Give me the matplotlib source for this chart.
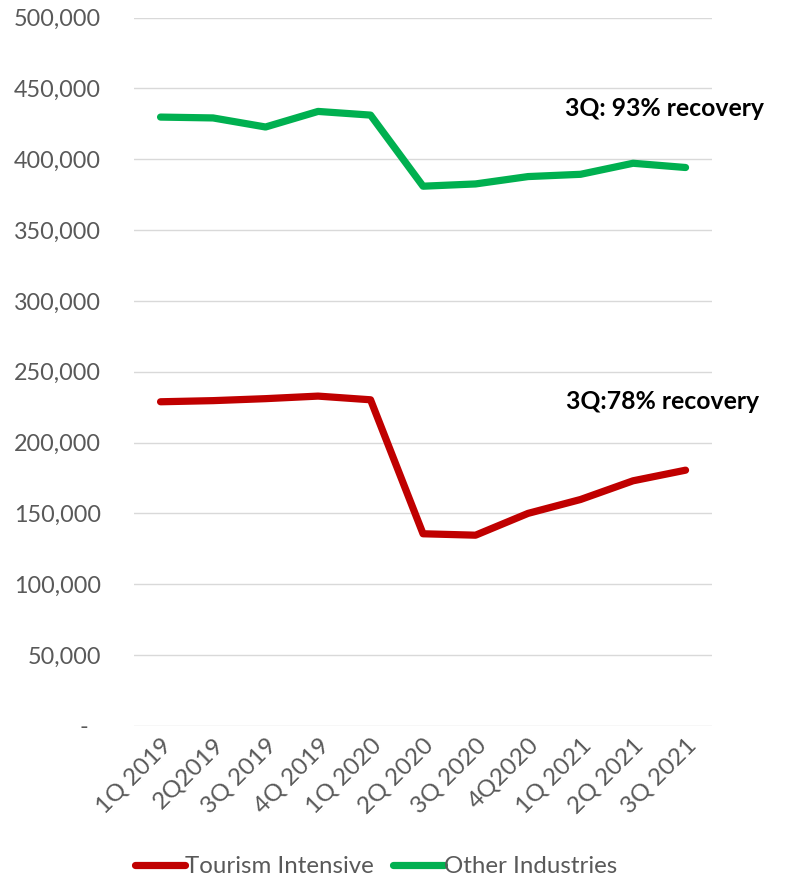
import matplotlib
matplotlib.use("Agg")
import matplotlib.pyplot as plt
from matplotlib.ticker import FuncFormatter

categories = ["1Q 2019", "2Q2019", "3Q 2019", "4Q 2019", "1Q 2020", "2Q 2020",
              "3Q 2020", "4Q2020", "1Q 2021", "2Q 2021", "3Q 2021"]
tourism = [228800, 229600, 231000, 232800, 230200, 135600, 134600, 150000, 159800, 173000, 180500]
other = [429800, 429200, 422800, 433800, 431200, 381000, 382600, 387800, 389400, 397200, 394200]

plt.rcParams['font.family'] = ['Lato', 'DejaVu Sans']

fig = plt.figure(figsize=(7.9, 8.83), dpi=100)
ax = fig.add_axes([0.170, 0.178, 0.731, 0.802])

x = list(range(len(categories)))
ax.plot(x, tourism, color="#c00000", lw=5.2, solid_capstyle="round", label="Tourism Intensive")
ax.plot(x, other, color="#00b050", lw=5.2, solid_capstyle="round", label="Other Industries")

ax.set_xlim(-0.5, len(categories) - 0.5)
ax.set_ylim(0, 500000)
ax.set_yticks(range(0, 500001, 50000))
ax.yaxis.set_major_formatter(FuncFormatter(lambda v, p: "-  " if v == 0 else f"{int(v):,}"))
ax.set_xticks(x)
ax.set_xticklabels(categories, rotation=45, ha="right", va="top", rotation_mode="anchor")
ax.grid(axis="y", color="#d9d9d9", lw=1)
ax.set_axisbelow(True)
for s in ax.spines.values():
    s.set_visible(False)
ax.tick_params(axis="both", length=0, colors="#595959", labelsize=16.8)
ax.tick_params(axis="x", labelsize=17.5)
ax.tick_params(axis="y", pad=24)
ax.tick_params(axis="x", pad=6)

ax.text(1.09, 436000, "3Q: 93% recovery", transform=ax.get_yaxis_transform(),
        ha="right", va="center", fontsize=17.8, fontweight="bold", color="black")
ax.text(1.082, 229000, "3Q:78% recovery", transform=ax.get_yaxis_transform(),
        ha="right", va="center", fontsize=17.8, fontweight="bold", color="black")

leg = fig.legend(loc="lower center", bbox_to_anchor=(0.476, -0.018), ncol=2, frameon=False,
                 fontsize=17.3, handlelength=2.1, handletextpad=0.0, columnspacing=0.8)
for t in leg.get_texts():
    t.set_color("#595959")

fig.savefig("out.png", dpi=100)
